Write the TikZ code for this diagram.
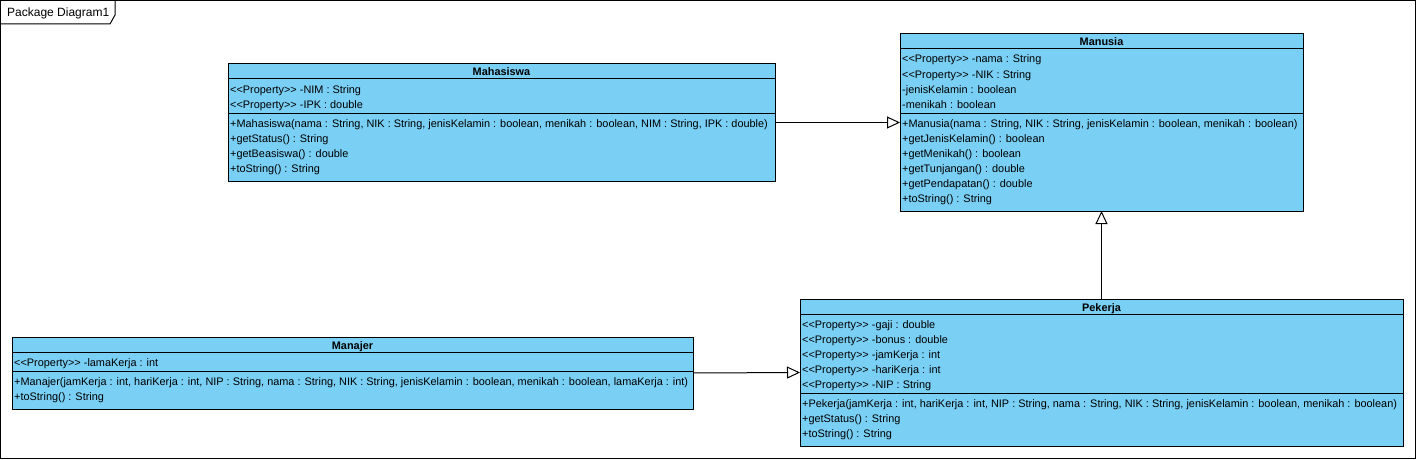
\documentclass[tikz,border=0pt]{standalone}
\usepackage{fontspec}
\usetikzlibrary{arrows.meta}
\newfontfamily\umlfont{Liberation Sans}
\definecolor{classfill}{RGB}{122,207,245}

\tikzset{
  classbox/.style={draw=black, line width=1pt, fill=classfill, anchor=north west,
    inner sep=0pt, outer sep=0pt},
  member/.style={anchor=base west, inner sep=0pt, font=\umlfont\fontsize{10.9}{12}\selectfont},
  classname/.style={anchor=base, inner sep=0pt, font=\umlfont\bfseries\fontsize{10.9}{12}\selectfont},
  inherit/.style={line width=1pt, -{Triangle[open, length=13pt, width=12pt, line width=1pt]}}
}

\begin{document}
\begin{tikzpicture}[x=1pt, y=-1pt]
      \useasboundingbox (0,0) rectangle (1417,460);
      % frame
      \draw[line width=1pt] (0.5,0.5) rectangle (1415.5,458.5);
      \draw[line width=1pt] (0.5,24) -- (110,24) -- (115,15) -- (115,0.5);
      \node[member, anchor=west, font=\umlfont\fontsize{12}{14}\selectfont] (pkg) at (7,13) {Package Diagram1};

      % Mahasiswa
      \begin{scope}[shift={(228,64)}]
        \node[classbox, minimum width=547pt, minimum height=117pt] (mahasiswa) at (0,0) {};
        \draw[line width=1pt] (0,15) -- (547,15);
        \draw[line width=1pt] (0,49) -- (547,49);
        \node[classname] (mhs-title) at (273.5,12) {Mahasiswa};
        \node[member] (mhs-a1) at (2,29) {<<Property>> -NIM : String};
        \node[member] (mhs-a2) at (2,44) {<<Property>> -IPK : double};
        \node[member] (mhs-o1) at (2,63) {+Mahasiswa(nama : String, NIK : String, jenisKelamin : boolean, menikah : boolean, NIM : String, IPK : double)};
        \node[member] (mhs-o2) at (2,78) {+getStatus() : String};
        \node[member] (mhs-o3) at (2,93) {+getBeasiswa() : double};
        \node[member] (mhs-o4) at (2,108) {+toString() : String};
      \end{scope}

      % Manusia
      \begin{scope}[shift={(900,34)}]
        \node[classbox, minimum width=403pt, minimum height=177pt] (manusia) at (0,0) {};
        \draw[line width=1pt] (0,15) -- (403,15);
        \draw[line width=1pt] (0,79) -- (403,79);
        \node[classname] (mns-title) at (201.5,12) {Manusia};
        \node[member] (mns-a1) at (2,29) {<<Property>> -nama : String};
        \node[member] (mns-a2) at (2,44) {<<Property>> -NIK : String};
        \node[member] (mns-a3) at (2,59) {-jenisKelamin : boolean};
        \node[member] (mns-a4) at (2,74) {-menikah : boolean};
        \node[member] (mns-o1) at (2,93) {+Manusia(nama : String, NIK : String, jenisKelamin : boolean, menikah : boolean)};
        \node[member] (mns-o2) at (2,108) {+getJenisKelamin() : boolean};
        \node[member] (mns-o3) at (2,123) {+getMenikah() : boolean};
        \node[member] (mns-o4) at (2,138) {+getTunjangan() : double};
        \node[member] (mns-o5) at (2,153) {+getPendapatan() : double};
        \node[member] (mns-o6) at (2,168) {+toString() : String};
      \end{scope}

      % Pekerja
      \begin{scope}[shift={(800,299)}]
        \node[classbox, minimum width=603pt, minimum height=147pt] (pekerja) at (0,0) {};
        \draw[line width=1pt] (0,15) -- (603,15);
        \draw[line width=1pt] (0,94) -- (603,94);
        \node[classname] (pkj-title) at (301.5,12) {Pekerja};
        \node[member] (pkj-a1) at (2,29) {<<Property>> -gaji : double};
        \node[member] (pkj-a2) at (2,44) {<<Property>> -bonus : double};
        \node[member] (pkj-a3) at (2,59) {<<Property>> -jamKerja : int};
        \node[member] (pkj-a4) at (2,74) {<<Property>> -hariKerja : int};
        \node[member] (pkj-a5) at (2,89) {<<Property>> -NIP : String};
        \node[member] (pkj-o1) at (2,108) {+Pekerja(jamKerja : int, hariKerja : int, NIP : String, nama : String, NIK : String, jenisKelamin : boolean, menikah : boolean)};
        \node[member] (pkj-o2) at (2,123) {+getStatus() : String};
        \node[member] (pkj-o3) at (2,138) {+toString() : String};
      \end{scope}

      % Manajer
      \begin{scope}[shift={(12,337)}]
        \node[classbox, minimum width=681pt, minimum height=72pt] (manajer) at (0,0) {};
        \draw[line width=1pt] (0,15) -- (681,15);
        \draw[line width=1pt] (0,34) -- (681,34);
        \node[classname] (mnj-title) at (340.5,12) {Manajer};
        \node[member] (mnj-a1) at (2,29) {<<Property>> -lamaKerja : int};
        \node[member] (mnj-o1) at (2,48) {+Manajer(jamKerja : int, hariKerja : int, NIP : String, nama : String, NIK : String, jenisKelamin : boolean, menikah : boolean, lamaKerja : int)};
        \node[member] (mnj-o2) at (2,63) {+toString() : String};
      \end{scope}

      % generalisations
      \draw[inherit] (mahasiswa.east) -- (manusia.west);
      \draw[inherit] (pekerja.north) -- (manusia.south);
      \draw[inherit] (manajer.east) -- (pekerja.west);
    \end{tikzpicture}
\end{document}
